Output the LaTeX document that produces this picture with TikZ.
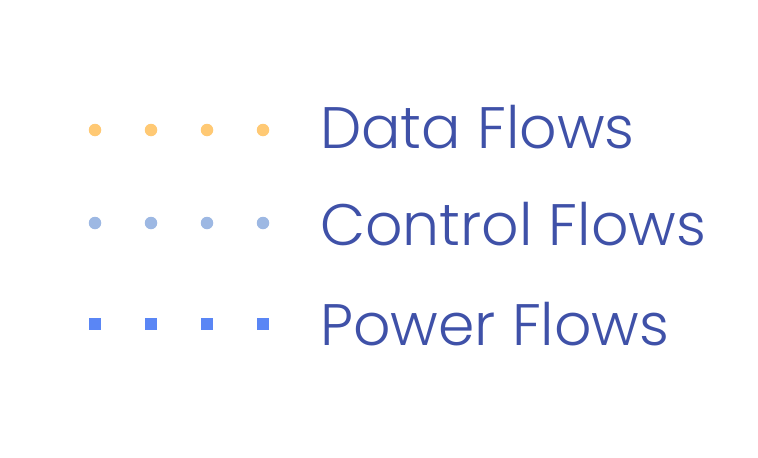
\documentclass[tikz,border=0pt]{standalone}
\usepackage{fontspec}
\setmainfont{Poppins Light}
\definecolor{txt}{HTML}{3F51A8}
\definecolor{dataC}{HTML}{FFC974}
\definecolor{ctrlC}{HTML}{9DB8E3}
\definecolor{powC}{HTML}{5A86F5}
\begin{document}
\begin{tikzpicture}[x=1pt,y=-1pt,
  lbl/.style={anchor=base west,inner sep=0pt,text=txt,font=\fontsize{58.5}{58.5}\selectfont},
  dotd/.style={circle,fill=dataC,minimum size=12.5pt,inner sep=0pt},
  dotc/.style={circle,fill=ctrlC,minimum size=12.5pt,inner sep=0pt},
  sqp/.style={rectangle,fill=powC,minimum size=12pt,inner sep=0pt}]
\useasboundingbox (0,0) rectangle (758,458);
\foreach \x [count=\i] in {95,151,207,263}{
  \node[dotd] (d\i) at (\x,130) {};
  \node[dotc] (c\i) at (\x,223) {};
  \node[sqp] (p\i) at (\x,324) {};
}
\node[lbl] (ld) at (320,148) {Data Flows};
\node[lbl] (lc) at (320,245) {Control Flows};
\node[lbl] (lp) at (320,345) {Power Flows};
\end{tikzpicture}
\end{document}
